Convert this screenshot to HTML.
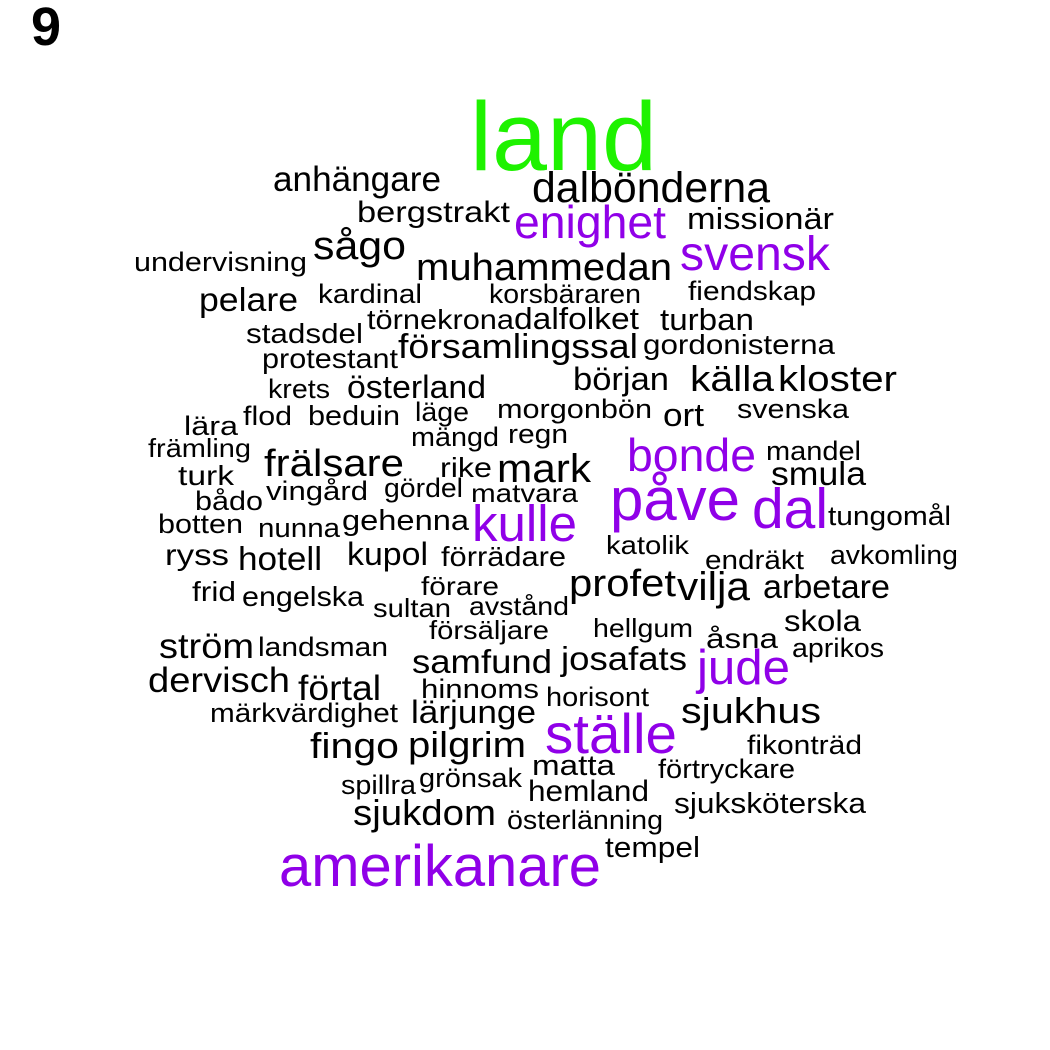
<!DOCTYPE html>
<html>
<head>
<meta charset="utf-8">
<style>
  html,body{margin:0;padding:0;background:#fff;}
  #wrap{position:relative;width:1050px;height:1050px;overflow:hidden;}
  svg text{font-family:"Liberation Sans",Arial,sans-serif;}
</style>
</head>
<body>
<div id="wrap">
<svg id="cloud" width="1050" height="1050" viewBox="0 0 1050 1050">
  <text x="31" y="45" font-size="54" font-weight="bold" fill="#000">9</text>
</svg>
</div>
<script>
const words = ["land","anhängare","dalbönderna","bergstrakt","enighet","missionär","sågo","svensk","undervisning","muhammedan","pelare","kardinal","korsbäraren","fiendskap","stadsdel","törnekrona","dalfolket","turban","protestant","församlingssal","gordonisterna","krets","österland","början","källa","kloster","lära","flod","beduin","läge","morgonbön","ort","svenska","mängd","regn","främling","bonde","mandel","turk","frälsare","rike","mark","smula","påve","dal","bådo","vingård","gördel","matvara","botten","nunna","gehenna","kulle","tungomål","katolik","ryss","hotell","kupol","förrädare","endräkt","avkomling","frid","profet","vilja","arbetare","förare","engelska","sultan","avstånd","ström","landsman","försäljare","hellgum","skola","åsna","aprikos","samfund","josafats","jude","dervisch","förtal","hinnoms","horisont","märkvärdighet","lärjunge","sjukhus","ställe","fingo","pilgrim","fikonträd","matta","förtryckare","spillra","grönsak","hemland","sjuksköterska","sjukdom","österlänning","tempel","amerikanare"];
const sizes = [97,35,43,30,46,31,40,48,27,38,33,27,27,27,28,28,31,31,28,34,28,27,32,32,36,36,27,27,28,27,27,32,27,27,27,26,46,27,28,38,28,40,33,60,57,27,27,27,26,27,27,29,51,27,26,30,33,32,28,27,27,28,38,40,33,26,28,26,26,35,27,26,26,30,28,27,33,33,49,35,35,27,27,27,32,36,56,36,36,27,29,27,27,27,30,29,36,27,29,58];
const groups = ["g","k","k","k","p","k","k","p","k","k","k","k","k","k","k","k","k","k","k","k","k","k","k","k","k","k","k","k","k","k","k","k","k","k","k","k","p","k","k","k","k","k","k","p","p","k","k","k","k","k","k","k","p","k","k","k","k","k","k","k","k","k","k","k","k","k","k","k","k","k","k","k","k","k","k","k","k","k","p","k","k","k","k","k","k","k","p","k","k","k","k","k","k","k","k","k","k","k","k","p"];
// layout (placement from the cloud algorithm): left x, baseline y, width
const layoutX = [470,273,532,357,514,687,313,680,134,416,199,318,489,688,246,367,514,660,262,398,643,268,347,573,690,778,184,243,308,415,497,663,737,411,508,148,627,766,178,264,440,497,771,610,752,195,266,384,471,158,258,342,472,828,606,165,238,347,441,705,830,192,569,677,763,421,242,373,469,159,258,429,593,784,706,792,412,561,697,148,298,421,546,210,411,681,545,310,408,747,532,658,341,419,528,674,353,507,605,279];
const layoutY = [170,191,202,222,238,229,259,270,271,280,311,303,303,300,343,329,329,330,368,358,354,398,398,390,391,391,435,425,425,421,418,426,418,446,443,457,471,460,485,476,477,482,485,520,528,510,500,497,502,533,537,530,541,525,554,565,570,565,566,569,564,601,596,600,598,595,606,617,615,658,656,639,637,631,648,657,673,670,684,692,700,698,706,722,723,723,753,758,757,754,775,778,794,787,801,813,825,829,857,886];
const layoutW = [187,168,238,153,152,147,93,150,173,256,99,104,152,128,117,147,125,94,136,240,192,62,139,96,84,119,54,49,92,54,155,41,112,88,60,103,129,95,56,140,52,94,95,130,76,68,102,79,107,85,82,127,105,123,83,64,84,81,125,99,128,44,107,73,127,78,122,78,100,95,130,120,100,77,72,92,140,126,93,142,83,118,103,188,125,140,132,89,118,115,83,137,75,103,121,192,143,156,95,322];
const palette = {g:"#1ef200", p:"#9000e8", k:"#000000"};
const svg = document.getElementById('cloud');
const NS = "http://www.w3.org/2000/svg";
for (let i = 0; i < words.length; i++) {
  const t = document.createElementNS(NS, 'text');
  t.setAttribute('x', layoutX[i]);
  t.setAttribute('y', layoutY[i]);
  t.setAttribute('font-size', sizes[i]);
  t.setAttribute('fill', palette[groups[i]]);
  t.setAttribute('textLength', layoutW[i]);
  t.setAttribute('lengthAdjust', 'spacingAndGlyphs');
  
  
  t.textContent = words[i];
  svg.appendChild(t);
}
</script>
</body>
</html>
